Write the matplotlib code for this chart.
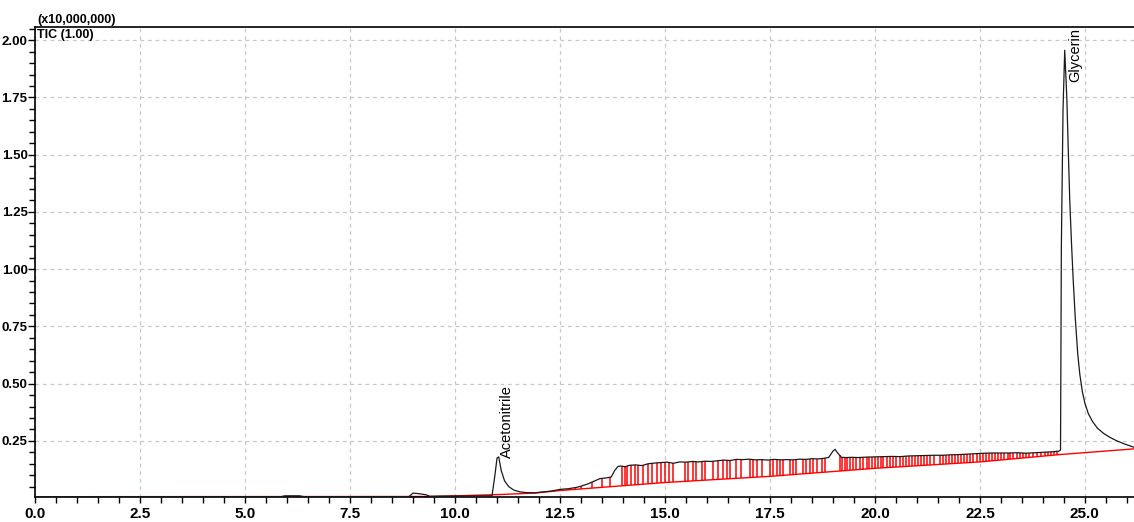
"""
GC-MS TIC chromatogram with baseline and integration drop lines
"""

import numpy as np
import matplotlib.pyplot as plt
from matplotlib.ticker import MultipleLocator

# ============ data (x10,000,000 counts) ============
rt_min = [0.0, 5.85, 5.95, 6.3, 6.4, 8.9, 9.0, 9.1, 9.3, 9.4,
          10.88, 10.95, 11.0, 11.04, 11.1, 11.18, 11.28, 11.4, 11.55, 11.7,
          11.9, 12.1, 12.3, 12.5, 12.7, 12.9, 13.0, 13.15, 13.3, 13.45,
          13.6, 13.72, 13.8, 13.88, 13.95, 14.05, 14.15, 14.3, 14.45, 14.6,
          14.75, 14.9, 15.05, 15.2, 15.35, 15.5, 15.65, 15.8, 15.95, 16.1,
          16.25, 16.4, 16.55, 16.7, 16.85, 17.0, 17.15, 17.3, 17.45, 17.6,
          17.75, 17.9, 18.05, 18.2, 18.35, 18.5, 18.65, 18.8, 18.9, 19.0,
          19.05, 19.1, 19.2, 19.3, 19.45, 19.6, 19.8, 20.0, 20.2, 20.4,
          20.6, 20.8, 21.0, 21.2, 21.4, 21.6, 21.8, 22.0, 22.2, 22.4,
          22.6, 22.8, 23.0, 23.2, 23.4, 23.6, 23.8, 24.0, 24.2, 24.38,
          24.42, 24.44, 24.48, 24.52, 24.57, 24.6, 24.64, 24.68, 24.72, 24.77,
          24.83, 24.88, 24.94, 25.0, 25.08, 25.18, 25.3, 25.45, 25.6, 25.76,
          25.95, 26.17]
tic = [0.006, 0.006, 0.010, 0.010, 0.006, 0.006, 0.022, 0.020, 0.015, 0.008,
       0.010, 0.100, 0.175, 0.180, 0.120, 0.075, 0.050, 0.035, 0.027, 0.024,
       0.023, 0.027, 0.031, 0.038, 0.041, 0.047, 0.052, 0.061, 0.073, 0.085,
       0.088, 0.092, 0.120, 0.138, 0.140, 0.137, 0.143, 0.145, 0.142, 0.150,
       0.153, 0.155, 0.157, 0.152, 0.158, 0.157, 0.160, 0.158, 0.161, 0.160,
       0.163, 0.166, 0.164, 0.169, 0.168, 0.170, 0.167, 0.168, 0.166, 0.169,
       0.167, 0.168, 0.167, 0.170, 0.169, 0.172, 0.171, 0.174, 0.178, 0.205,
       0.213, 0.200, 0.178, 0.177, 0.178, 0.177, 0.179, 0.180, 0.181, 0.182,
       0.181, 0.184, 0.185, 0.186, 0.187, 0.187, 0.189, 0.190, 0.192, 0.194,
       0.196, 0.197, 0.197, 0.197, 0.198, 0.196, 0.198, 0.200, 0.202, 0.205,
       0.210, 1.100, 1.700, 1.956, 1.750, 1.550, 1.300, 1.120, 0.960, 0.790,
       0.630, 0.540, 0.465, 0.415, 0.370, 0.335, 0.305, 0.282, 0.265, 0.250,
       0.236, 0.222]

# baseline (red)
base_rt = [0.0, 9.4, 11.0, 11.9, 12.5, 15.0, 17.5, 20.0, 22.5, 24.4, 26.17]
base_y = [0.006, 0.007, 0.015, 0.022, 0.033, 0.068, 0.095, 0.130, 0.158, 0.190, 0.215]

# integration drop lines (retention times)
drop_rt = [12.5, 12.7, 12.86, 13.01, 13.25, 13.49, 13.69, 13.97, 14.04, 14.09,
           14.2, 14.28, 14.36, 14.48, 14.6, 14.68, 14.8, 14.9, 15.0, 15.1,
           15.2, 15.47, 15.55, 15.67, 15.75, 15.87, 15.95, 16.15, 16.27, 16.39,
           16.47, 16.55, 16.7, 16.82, 17.02, 17.1, 17.18, 17.3, 17.5, 17.58,
           17.66, 17.74, 17.82, 17.97, 18.05, 18.13, 18.29, 18.37, 18.45, 18.53,
           18.61, 18.73, 18.81, 19.16, 19.22, 19.28, 19.34, 19.4, 19.48, 19.56,
           19.64, 19.72, 19.8, 19.86, 19.92, 20.0, 20.08, 20.14, 20.2, 20.28,
           20.36, 20.44, 20.51, 20.6, 20.66, 20.74, 20.8, 20.88, 20.96, 21.02,
           21.1, 21.18, 21.24, 21.32, 21.4, 21.56, 21.62, 21.7, 21.76, 21.84,
           21.9, 21.98, 22.04, 22.12, 22.2, 22.26, 22.34, 22.42, 22.5, 22.58,
           22.65, 22.72, 22.8, 22.86, 22.94, 23.0, 23.08, 23.16, 23.22, 23.3,
           23.38, 23.46, 23.52, 23.6, 23.68, 23.77, 23.86, 23.95, 24.04, 24.12,
           24.2, 24.27, 24.33]

peak_names = ['Acetonitrile', 'Glycerin']
peak_label_x = [11.24, 24.76]
peak_label_y = [0.175, 1.817]

# ============ plot ============
fig = plt.figure(figsize=(11.34, 5.22), dpi=100)
ax = fig.add_axes([0.031, 0.048, 0.969, 0.900])

tick_font = ['Liberation Sans Narrow', 'Liberation Sans', 'DejaVu Sans']

ax.plot(base_rt, base_y, color='#ff0000', lw=1.0, zorder=2)
lo = np.interp(drop_rt, base_rt, base_y)
hi = np.interp(drop_rt, rt_min, tic)
ax.vlines(drop_rt, lo, hi, color='#ff0000', lw=1.1, zorder=2)
ax.plot(rt_min, tic, color='#1a1a1a', lw=0.9, zorder=3)

for name, x, y in zip(peak_names, peak_label_x, peak_label_y):
    ax.text(x, y, name, rotation=90, ha='center', va='bottom',
            fontsize=10.5, family=tick_font, color='black')

ax.set_xlim(0, 26.17)
ax.set_ylim(0.005, 2.057)
ax.xaxis.set_major_locator(MultipleLocator(2.5))
ax.xaxis.set_minor_locator(MultipleLocator(0.5))
ax.yaxis.set_minor_locator(MultipleLocator(0.05))
ax.set_yticks([0.25, 0.5, 0.75, 1.0, 1.25, 1.5, 1.75, 2.0])
ax.xaxis.set_major_formatter(plt.FormatStrFormatter('%.1f'))
ax.yaxis.set_major_formatter(plt.FormatStrFormatter('%.2f'))

ax.tick_params(axis='both', which='both', direction='out', width=1, color='black')
ax.tick_params(axis='x', which='major', length=4, pad=3)
ax.tick_params(axis='x', which='minor', length=4)
ax.tick_params(axis='y', which='major', length=5, pad=0.5)
ax.tick_params(axis='y', which='minor', length=4)
for lab in ax.get_xticklabels():
    lab.set_fontfamily(tick_font)
    lab.set_fontweight('bold')
    lab.set_fontsize(11)
for lab in ax.get_yticklabels():
    lab.set_fontfamily(tick_font)
    lab.set_fontweight('bold')
    lab.set_fontsize(9.5)

ax.grid(True, which='major', color='#c8c8c8', linestyle=(0, (3, 3)), lw=0.9)
ax.set_axisbelow(True)
ax.spines['right'].set_visible(False)
for s in ('top', 'left', 'bottom'):
    ax.spines[s].set_linewidth(1.2)
    ax.spines[s].set_color('black')

ax.text(0.002, 1.003, '(x10,000,000)', transform=ax.transAxes, ha='left',
        va='bottom', fontsize=9, fontweight='bold', family=tick_font)
ax.text(0.002, 0.997, 'TIC (1.00)', transform=ax.transAxes, ha='left',
        va='top', fontsize=9, fontweight='bold', family=tick_font)

plt.savefig('out.png', dpi=100)
